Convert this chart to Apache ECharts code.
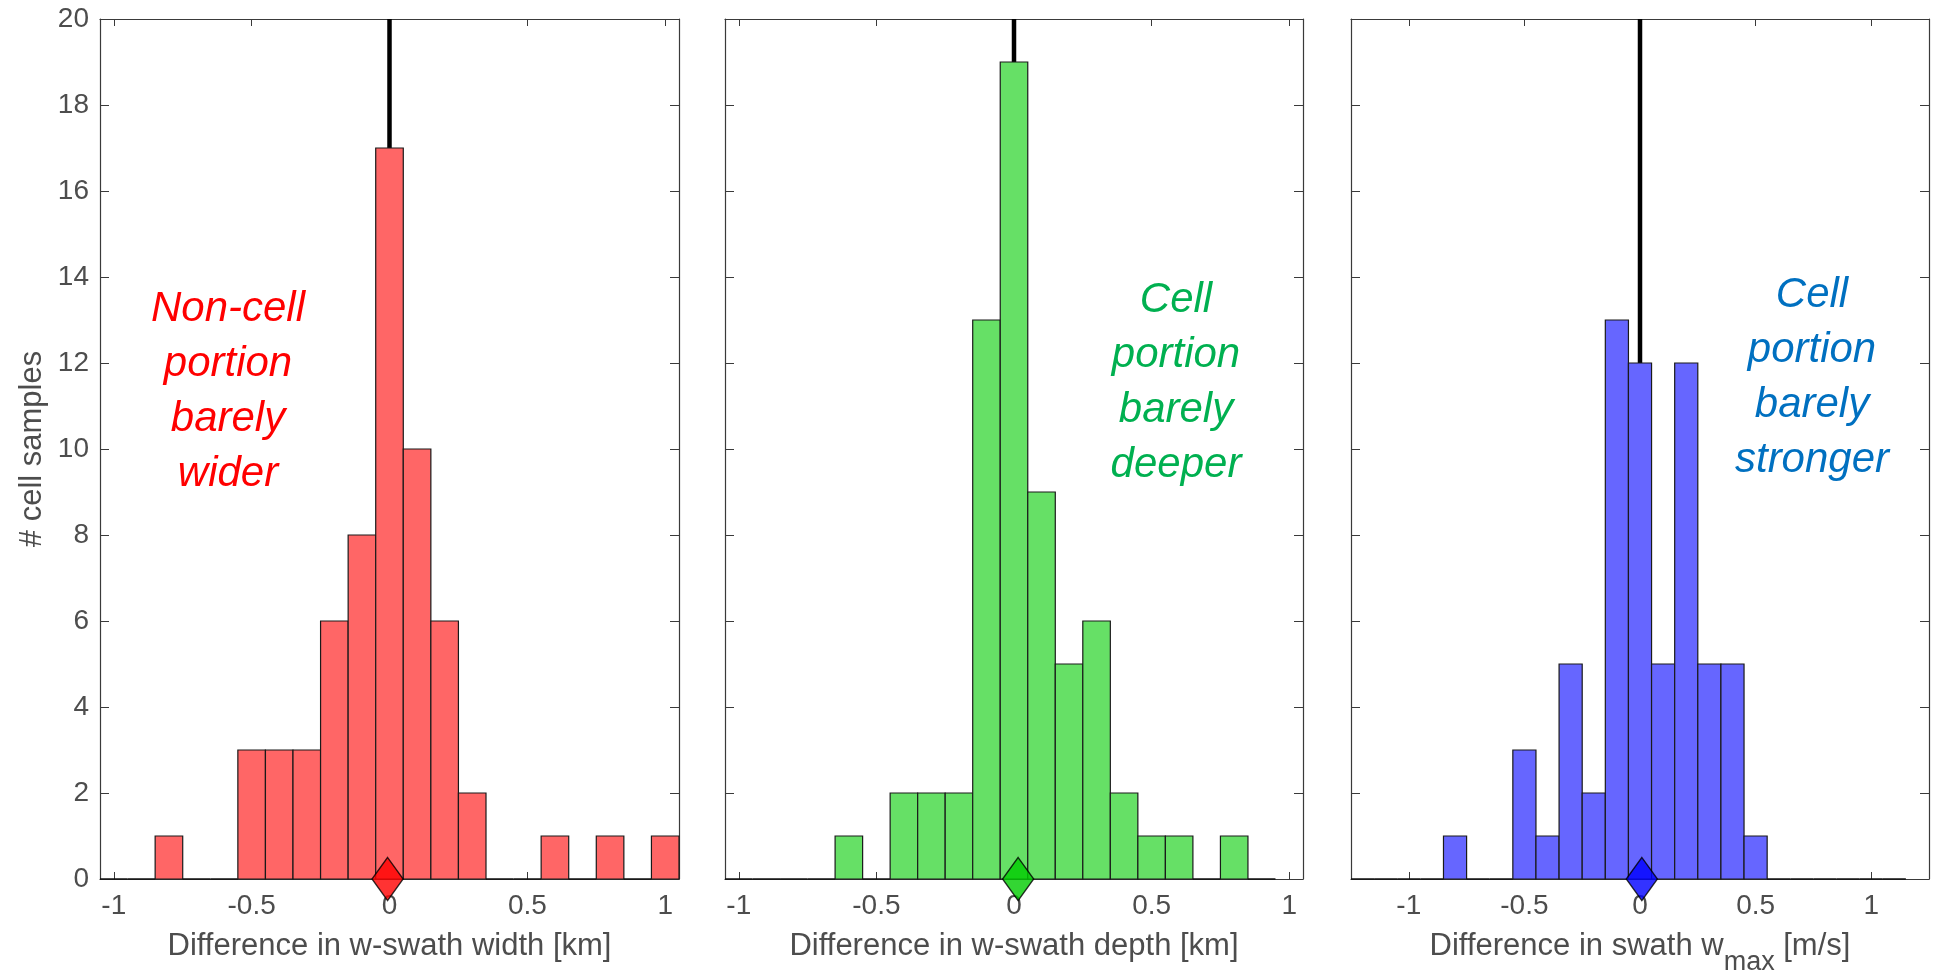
<!DOCTYPE html>
<html>
<head>
<meta charset="utf-8">
<title>cell vs non-cell swath differences</title>
<script src="https://cdn.jsdelivr.net/npm/echarts@6/dist/echarts.min.js"></script>
<style>
  html, body { margin: 0; padding: 0; background: #fff; }
  #chart { width: 1949px; height: 971px; }
</style>
</head>
<body>
<div id="chart"></div>
<script>
// histogram bins (centres, width 0.1) and counts
const widthCenters = [-1.0, -0.9, -0.8, -0.7, -0.6, -0.5, -0.4, -0.3, -0.2, -0.1, 0, 0.1, 0.2, 0.3, 0.4, 0.5, 0.6, 0.7, 0.8, 0.9, 1.0]
const widthCounts  = [0, 0, 1, 0, 0, 3, 3, 3, 6, 8, 17, 10, 6, 2, 0, 0, 1, 0, 1, 0, 1]

const depthCenters = [-1.0, -0.9, -0.8, -0.7, -0.6, -0.5, -0.4, -0.3, -0.2, -0.1, 0, 0.1, 0.2, 0.3, 0.4, 0.5, 0.6, 0.7, 0.8, 0.9]
const depthCounts  = [0, 0, 0, 0, 1, 0, 2, 2, 2, 13, 19, 9, 5, 6, 2, 1, 1, 0, 1, 0]

const wmaxCenters = [-1.2, -1.1, -1.0, -0.9, -0.8, -0.7, -0.6, -0.5, -0.4, -0.3, -0.2, -0.1, 0, 0.1, 0.2, 0.3, 0.4, 0.5, 0.6, 0.7, 0.8, 0.9, 1.0, 1.1]
const wmaxCounts  = [0, 0, 0, 0, 1, 0, 0, 3, 1, 5, 2, 13, 12, 5, 12, 5, 5, 1, 0, 0, 0, 0, 0, 0]

// mean difference (diamond) of each panel
const means = [-0.007, 0.015, 0.008]

const xTicks = [-1, -0.5, 0, 0.5, 1]
const xLimits = [[-1.05, 1.05], [-1.05, 1.05], [-1.25, 1.25]]
const yMax = 20

const xNames = [
    'Difference in w-swath width [km]',
    'Difference in w-swath depth [km]',
    'Difference in swath w{sub|max} [m/s]'
]
const notes = [
    'Non-cell\nportion\nbarely\nwider',
    'Cell\nportion\nbarely\ndeeper',
    'Cell\nportion\nbarely\nstronger'
]

const BIN_W = 0.1
const FONT = "'Liberation Sans', Arial, Helvetica, sans-serif"
const AXIS_COLOR = '#3a3a3a'
const LABEL_COLOR = '#4d4d4d'

const panels = [
    { centers: widthCenters, counts: widthCounts, fill: '#ff6666', mark: '#ff0000', text: '#ff0000' },
    { centers: depthCenters, counts: depthCounts, fill: '#66e066', mark: '#00cc00', text: '#00b050' },
    { centers: wmaxCenters, counts: wmaxCounts, fill: '#6666ff', mark: '#0000ff', text: '#0070c0' }
]

const gridBoxes = [
    { left: 100, width: 579 },
    { left: 725, width: 578 },
    { left: 1351, width: 578 }
]
const notePos = [[228, 392], [1176, 383], [1812, 378]]

const chart = echarts.init(document.getElementById('chart'))

function binRenderer(fill) {
    return function (params, api) {
        const c = api.value(0)
        const n = api.value(1)
        const p0 = api.coord([c - BIN_W / 2, n])
        const p1 = api.coord([c + BIN_W / 2, 0])
        if (n === 0) {
            return {
                type: 'line',
                shape: { x1: p0[0], y1: p1[1], x2: p1[0], y2: p1[1] },
                style: { stroke: '#111', lineWidth: 1.5 }
            }
        }
        return {
            type: 'rect',
            shape: { x: p0[0], y: p0[1], width: p1[0] - p0[0], height: p1[1] - p0[1] },
            style: { fill: fill, stroke: '#1a1a1a', lineWidth: 1.2 }
        }
    }
}

const grid = []
const xAxis = []
const yAxis = []
const series = []
const graphic = []

panels.forEach((p, i) => {
    grid.push({
        left: gridBoxes[i].left, width: gridBoxes[i].width, top: 19, height: 860,
        containLabel: false, outerBoundsMode: 'none'
    })

    const xBase = {
        gridIndex: i,
        type: 'value',
        min: xLimits[i][0],
        max: xLimits[i][1],
        splitLine: { show: false },
        axisLine: { show: true, onZero: false, lineStyle: { color: AXIS_COLOR, width: 1.2 } },
        axisTick: { show: true, inside: true, length: 7, customValues: xTicks, lineStyle: { color: AXIS_COLOR } }
    }
    xAxis.push(Object.assign({}, xBase, {
        position: 'bottom',
        name: xNames[i],
        nameLocation: 'middle',
        nameGap: i === 2 ? 38 : 52,
        nameTextStyle: {
            fontFamily: FONT, fontSize: 31, color: LABEL_COLOR,
            rich: {
                sub: { fontFamily: FONT, fontSize: 27, color: LABEL_COLOR, padding: [32, 0, 0, 0] }
            }
        },
        axisLabel: { show: true, customValues: xTicks, margin: 13, fontFamily: FONT, fontSize: 28, color: LABEL_COLOR }
    }))
    xAxis.push(Object.assign({}, xBase, {
        position: 'top',
        name: '',
        axisLabel: { show: false }
    }))

    const yBase = {
        gridIndex: i,
        type: 'value',
        min: 0,
        max: yMax,
        interval: 2,
        splitLine: { show: false },
        axisLine: { show: true, onZero: false, lineStyle: { color: AXIS_COLOR, width: 1.2 } },
        axisTick: { show: true, inside: true, length: 9, lineStyle: { color: AXIS_COLOR } }
    }
    yAxis.push(Object.assign({}, yBase, {
        position: 'left',
        name: i === 0 ? '# cell samples' : '',
        nameLocation: 'middle',
        nameGap: 52,
        nameTextStyle: { fontFamily: FONT, fontSize: 31, color: LABEL_COLOR },
        axisLabel: { show: i === 0, margin: 11, fontFamily: FONT, fontSize: 28, color: LABEL_COLOR }
    }))
    yAxis.push(Object.assign({}, yBase, {
        position: 'right',
        axisLabel: { show: false }
    }))

    // vertical zero reference line, behind the bars
    series.push({
        type: 'line',
        xAxisIndex: i * 2,
        yAxisIndex: i * 2,
        data: [[0, 0], [0, yMax]],
        symbol: 'none',
        lineStyle: { color: '#000', width: 4.5 },
        z: 1,
        silent: true
    })

    series.push({
        type: 'custom',
        xAxisIndex: i * 2,
        yAxisIndex: i * 2,
        data: p.centers.map((c, k) => [c, p.counts[k]]),
        renderItem: binRenderer(p.fill),
        z: 2
    })

    series.push({
        type: 'scatter',
        xAxisIndex: i * 2,
        yAxisIndex: i * 2,
        data: [[means[i], 0]],
        symbol: 'diamond',
        symbolSize: [31, 43],
        clip: false,
        itemStyle: { color: p.mark, borderColor: '#000', borderWidth: 1.5 },
        z: 5
    })

    graphic.push({
        type: 'text',
        x: notePos[i][0],
        y: notePos[i][1],
        z: 10,
        style: {
            text: notes[i],
            fill: p.text,
            fontFamily: FONT,
            fontStyle: 'italic',
            fontSize: 42,
            lineHeight: 55,
            align: 'center',
            verticalAlign: 'middle'
        }
    })
})

const option = {
    backgroundColor: '#fff',
    animation: false,
    grid: grid,
    xAxis: xAxis,
    yAxis: yAxis,
    series: series,
    graphic: graphic
}
chart.setOption(option)
</script>
</body>
</html>
